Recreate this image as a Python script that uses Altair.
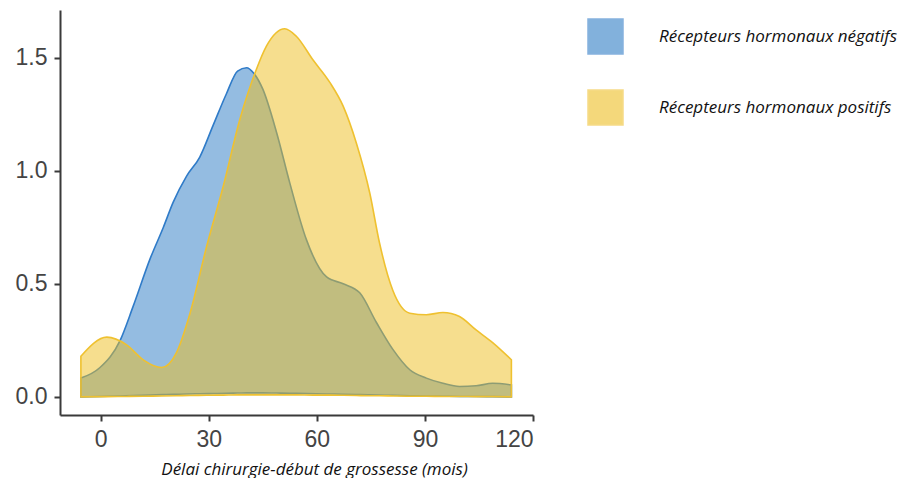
import altair as alt
import pandas as pd

series_names = ["Récepteurs hormonaux négatifs", "Récepteurs hormonaux positifs"]

neg_x = [-5.5, -0.2, 5.4, 9.0, 13.7, 17.4, 20.1, 23.8, 27.5, 31.2, 34.9, 38.0, 40.5, 42.5, 45.0,
         48.8, 52.5, 57.1, 62.7, 67.3, 71.9, 76.5, 81.1, 85.8, 90.4, 95.0, 99.6, 104.2, 108.8, 114.0]
neg_y = [0.083, 0.13, 0.25, 0.40, 0.61, 0.75, 0.86, 0.975, 1.06, 1.20, 1.34, 1.44, 1.455, 1.43, 1.36,
         1.17, 0.945, 0.695, 0.53, 0.50, 0.46, 0.33, 0.21, 0.12, 0.083, 0.06, 0.046, 0.049, 0.06, 0.053]
neg_low = [0.0, 0.002, 0.004, 0.006, 0.008, 0.010, 0.011, 0.013, 0.014, 0.015, 0.016, 0.017, 0.018, 0.018, 0.018,
           0.017, 0.016, 0.015, 0.013, 0.012, 0.010, 0.008, 0.007, 0.005, 0.004, 0.003, 0.002, 0.002, 0.001, 0.0]

pos_x = [-5.5, 1.7, 7.2, 11.8, 16.9, 21.0, 24.8, 29.4, 34.0, 38.6, 43.2, 46.0, 51.1, 54.3, 58.9,
         63.6, 67.3, 71.0, 74.7, 77.4, 81.1, 85.8, 90.4, 95.0, 99.6, 104.2, 108.8, 114.0]
pos_y = [0.18, 0.264, 0.23, 0.164, 0.13, 0.195, 0.37, 0.665, 0.93, 1.225, 1.447, 1.55, 1.627, 1.594, 1.49,
         1.39, 1.285, 1.12, 0.90, 0.68, 0.47, 0.37, 0.363, 0.373, 0.355, 0.296, 0.24, 0.164]
pos_low = [0.0, 0.001, 0.002, 0.003, 0.004, 0.005, 0.006, 0.007, 0.008, 0.009, 0.009, 0.009, 0.009, 0.009, 0.008,
           0.008, 0.007, 0.006, 0.005, 0.005, 0.004, 0.003, 0.003, 0.002, 0.002, 0.001, 0.001, 0.0]

x_ticks = [0, 30, 60, 90, 120]
y_ticks = [0.0, 0.5, 1.0, 1.5]

fill_colors = ["#2979c3", "#edbd1d"]
stroke_colors = ["#2f7bc8", "#efc130"]

df = pd.concat([
    pd.DataFrame({"x": neg_x, "y": neg_y, "low": neg_low, "groupe": series_names[0]}),
    pd.DataFrame({"x": pos_x, "y": pos_y, "low": pos_low, "groupe": series_names[1]}),
], ignore_index=True)

legend = alt.Legend(
    title=None,
    orient="none",
    legendX=527,
    legendY=8,
    symbolType="square",
    symbolSize=1225,
    symbolStrokeWidth=1.5,
    symbolOpacity=0.58,
    labelOffset=35,
    rowPadding=30,
    labelFont="Open Sans",
    labelFontStyle="italic",
    labelFontSize=17,
    labelColor="#111111",
    labelLimit=400,
    padding=0,
)

chart = alt.Chart(df).mark_area(
    interpolate="monotone",
    fillOpacity=0.5,
    strokeWidth=1.6,
).encode(
    x=alt.X("x:Q",
            scale=alt.Scale(domain=[-11.3, 120], nice=False, zero=False),
            axis=alt.Axis(values=x_ticks, format="d",
                          title="Délai chirurgie-début de grossesse (mois)",
                          titleFont="Open Sans", titleFontStyle="italic",
                          titleFontWeight="normal", titleFontSize=17,
                          titleColor="#111111", titleX=254, titleY=59,
                          titleAlign="center", titleBaseline="alphabetic")),
    y=alt.Y("y:Q",
            scale=alt.Scale(domain=[-0.08, 1.71], nice=False, zero=False),
            axis=alt.Axis(values=y_ticks, format=".1f", title=None)),
    y2="low:Q",
    fill=alt.Fill("groupe:N", scale=alt.Scale(domain=series_names, range=fill_colors), legend=legend),
    stroke=alt.Stroke("groupe:N", scale=alt.Scale(domain=series_names, range=stroke_colors), legend=legend),
).properties(
    width=473,
    height=405,
    autosize=alt.AutoSizeParams(type="none"),
    padding={"left": 52, "top": 2, "right": 370, "bottom": 63},
).configure_view(
    stroke=None
).configure_axis(
    grid=False,
    domainColor="#3a3a3a",
    domainWidth=2,
    tickColor="#3a3a3a",
    tickWidth=2,
    tickSize=6,
    labelFont="Liberation Sans",
    labelFontSize=23,
    labelColor="#444444",
    labelPadding=7,
)

chart.save("out.html", embed_options={"renderer": "svg", "actions": False})
